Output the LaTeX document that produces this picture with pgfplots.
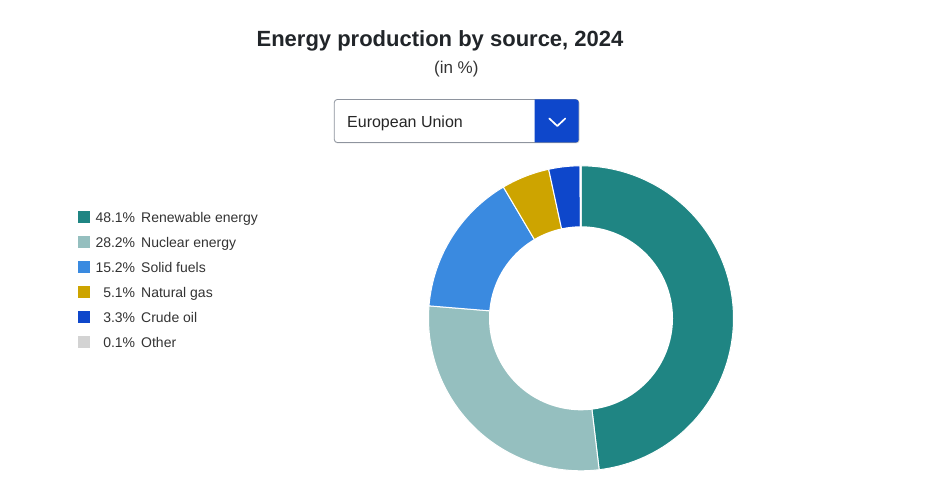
\documentclass[border=0pt]{standalone}
\usepackage{pgfplots}
\pgfplotsset{compat=1.18}
\usepackage{pgfplotstable}
\usepackage{fontspec}
\setmainfont{Liberation Sans}

\definecolor{cRen}{HTML}{1F8583}
\definecolor{cNuc}{HTML}{95BFBF}
\definecolor{cSol}{HTML}{3A8AE0}
\definecolor{cGas}{HTML}{CDA400}
\definecolor{cCru}{HTML}{0E47CB}
\definecolor{cOth}{HTML}{D3D3D3}
\definecolor{titlecol}{HTML}{212529}
\definecolor{textcol}{HTML}{333333}
\definecolor{dropblue}{HTML}{0E47CB}
\definecolor{dropborder}{HTML}{8E949E}

\pgfplotstableread{
source value
Renewable 48.1
Nuclear 28.2
Solid 15.2
Gas 5.1
Crude 3.3
Other 0.1
}\energydata

\newcommand\cum{0}
\newcommand\addslice[3]{%
  \pgfplotstablegetelem{#1}{value}\of\energydata
  \edef\pct{\pgfplotsretval}%
  \pgfmathsetmacro\angA{90-3.6*\cum}%
  \pgfmathsetmacro\cumnew{\cum+\pct}%
  \pgfmathsetmacro\angB{90-3.6*\cumnew}%
  \global\let\cum\cumnew
  \edef\temp{\noexpand\addplot[fill=#2, draw=white, line width=1bp, domain=\angB:\angA, samples=90] ({581+152.5*cos(x)},{171.7+152.5*sin(x)}) -- (axis cs:581,171.7) -- cycle;}%
  \temp
  \edef\legtmp{\noexpand\addlegendentry{\noexpand\makebox[40bp][r]{\pct\noexpand\%}\noexpand\hspace{6bp}#3}}%
  \legtmp
}

\begin{document}
\begin{tikzpicture}
\path[use as bounding box] (0,0) rectangle (951bp,490bp);
\begin{axis}[
  at={(0,0)}, anchor=south west,
  scale only axis, width=951bp, height=490bp,
  xmin=0, xmax=951, ymin=0, ymax=490,
  hide axis, clip=false,
  legend image code/.code={\fill[#1,draw=none] (0bp,-6bp) rectangle (12bp,6bp);},
  legend cell align=left,
  legend style={at={(0.08202,0.5698)}, anchor=north west, draw=none, fill=none,
    inner sep=0pt, row sep=13bp, column sep=5bp,
    font=\fontsize{14bp}{16bp}\selectfont, text=textcol,
    nodes={inner sep=0pt, text height=11bp, text depth=1bp},
    cells={anchor=west}},
]
\addslice{0}{cRen}{Renewable energy}
\addslice{1}{cNuc}{Nuclear energy}
\addslice{2}{cSol}{Solid fuels}
\addslice{3}{cGas}{Natural gas}
\addslice{4}{cCru}{Crude oil}
\addslice{5}{cOth}{Other}
\addplot[fill=white, draw=none, domain=0:360, samples=150, forget plot] ({581+92*cos(x)},{171.7+92*sin(x)}) -- cycle;
\end{axis}

% titles
\node[anchor=base, inner sep=0pt, font=\fontsize{22bp}{26bp}\selectfont\bfseries, text=titlecol] at (440bp,443.3bp) {Energy production by source, 2024};
\node[anchor=base, inner sep=0pt, font=\fontsize{17bp}{20bp}\selectfont, text=textcol] at (456.3bp,416.5bp) {(in \%)};

% dropdown
\fill[black!12, rounded corners=3bp] (334.5bp,346.5bp) rectangle (579.5bp,389.5bp);
\draw[dropborder, fill=white, rounded corners=3bp, line width=0.8bp] (334.3bp,347.5bp) rectangle (578.7bp,390.5bp);
\begin{scope}
  \clip (534.5bp,340bp) rectangle (585bp,395bp);
  \fill[dropblue, rounded corners=3bp] (334.3bp,347.5bp) rectangle (578.7bp,390.5bp);
\end{scope}
\draw[white, line width=1.7bp, line cap=round, line join=round] (549.3bp,371.5bp) -- (557.3bp,364bp) -- (565.3bp,371.5bp);
\node[anchor=base west, inner sep=0pt, font=\fontsize{16bp}{19bp}\selectfont, text=black!85] at (347bp,362bp) {European Union};
\end{tikzpicture}
\end{document}
